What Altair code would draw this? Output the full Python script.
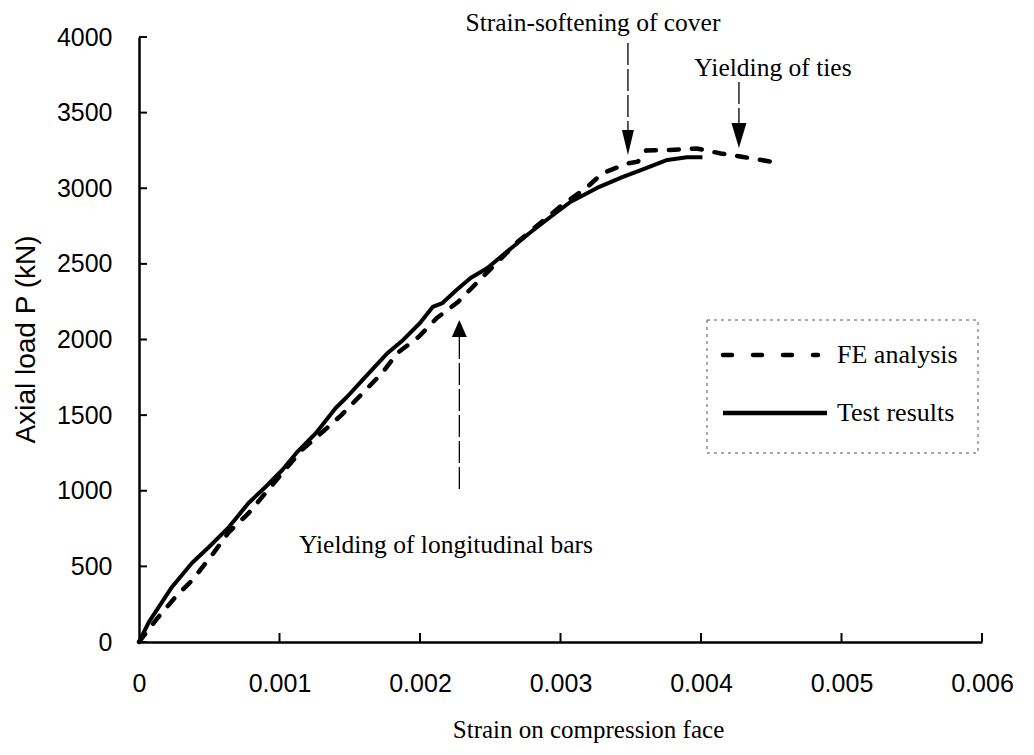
import altair as alt
import pandas as pd

# ---- data ----
test_strain = [0, 0.00007, 0.000235, 0.000377, 0.000498, 0.00064, 0.00078, 0.0009, 0.00102,
               0.00112, 0.00126, 0.0014, 0.00148, 0.00159, 0.00177, 0.00188, 0.002, 0.00209,
               0.00216, 0.00226, 0.00236, 0.00248, 0.00266, 0.00278, 0.0029, 0.00307,
               0.00326, 0.00344, 0.0036, 0.00376, 0.0039, 0.00401]
test_load = [0, 132, 364, 522, 628, 760, 919, 1025, 1137, 1250, 1382, 1547, 1620, 1732, 1911,
             1997, 2109, 2215, 2241, 2327, 2407, 2473, 2612, 2704, 2790, 2909, 3002, 3074,
             3130, 3187, 3205, 3205]

fe_strain = [0, 0.00012, 0.00026, 0.00038, 0.00052, 0.00064, 0.00078, 0.0009, 0.00102,
             0.00116, 0.00132, 0.00144, 0.00173, 0.00184, 0.00199, 0.00212, 0.00227, 0.00241,
             0.0027, 0.003, 0.00319, 0.0033, 0.00348, 0.00355, 0.00361, 0.00378, 0.00397,
             0.00414, 0.0043, 0.00451]
fe_load = [0, 145, 298, 410, 575, 727, 852, 985, 1117, 1270, 1400, 1500, 1778, 1911, 2017,
           2142, 2248, 2380, 2650, 2880, 3008, 3100, 3165, 3175, 3250, 3253, 3263, 3230,
           3207, 3174]

x_ticks = [0, 0.001, 0.002, 0.003, 0.004, 0.005, 0.006]
y_ticks = [0, 500, 1000, 1500, 2000, 2500, 3000, 3500, 4000]

# annotations (data coordinates)
note_text = ["Strain-softening of cover", "Yielding of ties", "Yielding of longitudinal bars"]
note_x = [0.003231, 0.004512, 0.002185]
note_y = [4093, 3795, 641]

arrow_x = [0.00348, 0.00427, 0.00228]
arrow_top = [3960, 3702, 2017]
arrow_bottom = [3385, 3431, 1005]
head_y = [3302, 3349, 2073]
head_shape = ["M-0.48,-1L0.48,-1L0,1Z", "M-0.6,-1L0.6,-1L0,1Z", "M-0.88,1L0.88,1L0,-1Z"]
head_size = [625, 625, 289]

legend_labels = ["FE analysis", "Test results"]

W, H = 843, 605
SANS = "Liberation Sans"
SERIF = "Liberation Serif"

xs = alt.Scale(domain=[0, 0.006], nice=False, zero=True)
ys = alt.Scale(domain=[0, 4000], nice=False, zero=True)

xaxis = alt.Axis(values=x_ticks, labelExpr="datum.value == 0 ? '0' : format(datum.value, '.3f')",
                 ticks=False, tickSize=0, grid=False, domainColor="black", domainWidth=2.5,
                 labelFont=SANS, labelFontSize=25, labelColor="black", labelPadding=29,
                 labelFlush=False,
                 title="Strain on compression face", titleFont=SERIF, titleFontSize=25,
                 titleFontWeight="normal", titleColor="black", titleX=449, titleY=95,
                 titleBaseline="alphabetic")
yaxis = alt.Axis(values=y_ticks, format="d", ticks=False, tickSize=0, grid=False,
                 domainColor="black", domainWidth=2.5, labelFont=SANS, labelFontSize=25,
                 labelColor="black", labelPadding=27, labelFlush=False,
                 title="Axial load P (kN)", titleFont=SANS, titleFontSize=28,
                 titleFontWeight="normal", titleColor="black", titleX=-99, titleY=302)

test_df = pd.DataFrame({"strain": test_strain, "load": test_load})
fe_df = pd.DataFrame({"strain": fe_strain, "load": fe_load})

test_line = alt.Chart(test_df).mark_line(color="black", strokeWidth=4, strokeJoin="round").encode(
    x=alt.X("strain:Q", scale=xs, axis=xaxis),
    y=alt.Y("load:Q", scale=ys, axis=yaxis),
)
fe_line = alt.Chart(fe_df).mark_line(color="black", strokeWidth=4.5, strokeDash=[10, 13],
                                     strokeCap="round").encode(
    x=alt.X("strain:Q", scale=xs),
    y=alt.Y("load:Q", scale=ys),
)

# inward ticks
ytick_df = pd.DataFrame({"v": y_ticks})
xtick_df = pd.DataFrame({"v": x_ticks[1:]})
ytick = alt.Chart(ytick_df).mark_rule(color="black", strokeWidth=2).encode(
    y=alt.Y("v:Q", scale=ys), x=alt.value(0), x2=alt.value(8))
xtick = alt.Chart(xtick_df).mark_rule(color="black", strokeWidth=2).encode(
    x=alt.X("v:Q", scale=xs), y=alt.value(H), y2=alt.value(H - 9))

# annotation text
note_df = pd.DataFrame({"t": note_text, "x": note_x, "y": note_y})
notes = alt.Chart(note_df).mark_text(font=SERIF, fontSize=25.5, color="black",
                                     baseline="middle", align="center").encode(
    x=alt.X("x:Q", scale=xs), y=alt.Y("y:Q", scale=ys), text="t:N")

layers = [test_line, fe_line, ytick, xtick, notes]

for i in range(len(arrow_x)):
    ldf = pd.DataFrame({"x": [arrow_x[i]], "y1": [arrow_top[i]], "y2": [arrow_bottom[i]],
                        "hy": [head_y[i]]})
    layers.append(alt.Chart(ldf).mark_rule(color="black", strokeWidth=1.3,
                                           strokeDash=[22, 4]).encode(
        x=alt.X("x:Q", scale=xs), y=alt.Y("y1:Q", scale=ys), y2="y2:Q"))
    layers.append(alt.Chart(ldf).mark_point(shape=head_shape[i], size=head_size[i], filled=True,
                                            color="black", opacity=1).encode(
        x=alt.X("x:Q", scale=xs), y=alt.Y("hy:Q", scale=ys)))

# legend (drawn manually)
leg_df = pd.DataFrame({"a": [0]})
leg_box = alt.Chart(leg_df).mark_rect(fill="white", stroke="#555555", strokeWidth=1,
                                      strokeDash=[3, 4]).encode(
    x=alt.value(568), x2=alt.value(839), y=alt.value(283), y2=alt.value(416))
leg_fe = alt.Chart(leg_df).mark_rule(color="black", strokeWidth=4.5, strokeDash=[9, 21],
                                     strokeCap="round").encode(
    x=alt.value(584), x2=alt.value(679), y=alt.value(318))
leg_test = alt.Chart(leg_df).mark_rule(color="black", strokeWidth=4.5).encode(
    x=alt.value(584), x2=alt.value(688), y=alt.value(376))
leg_t1 = alt.Chart(leg_df).mark_text(text=legend_labels[0], font=SERIF, fontSize=26,
                                     align="left", baseline="middle", color="black").encode(
    x=alt.value(698), y=alt.value(318))
leg_t2 = alt.Chart(leg_df).mark_text(text=legend_labels[1], font=SERIF, fontSize=26,
                                     align="left", baseline="middle", color="black").encode(
    x=alt.value(698), y=alt.value(376))

layers += [leg_box, leg_fe, leg_test, leg_t1, leg_t2]

chart = alt.layer(*layers).properties(
    width=W, height=H,
    padding={"left": 139, "top": 37, "right": 52, "bottom": 113},
    autosize=alt.AutoSizeParams(type="none"),
    background="white",
).configure_view(stroke=None)

chart.save("out.html", embed_options={"renderer": "svg", "actions": False})
